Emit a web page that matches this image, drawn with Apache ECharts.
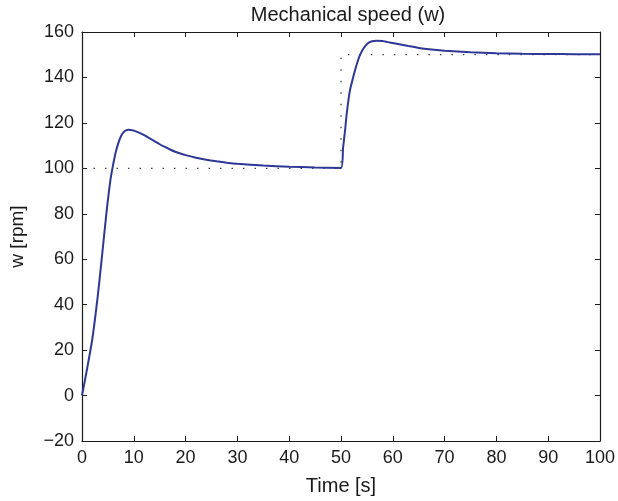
<!DOCTYPE html>
<html>
<head>
<meta charset="utf-8">
<script src="https://cdn.jsdelivr.net/npm/echarts@6/dist/echarts.min.js"></script>
<style>html,body{margin:0;padding:0;background:#fff}#c{width:618px;height:501px}</style>
</head>
<body>
<div id="c"></div>
<script>
// time (s) and mechanical speed (rpm)
var timeS = [0, 1, 2, 3, 3.8, 4.7, 5.5, 6, 6.5, 7, 7.5, 8, 8.5, 9, 10, 11, 12, 13, 14, 15, 16, 17, 18, 19, 20, 22, 24, 26, 28, 30, 35, 40, 45, 50,
             50.4, 50.8, 51.1, 51.7, 52.4, 53, 53.6, 54.3, 55.2, 56, 56.9, 58, 59.4, 61, 63, 65, 67, 70, 75, 80, 85, 90, 95, 100];
var speed = [0, 12, 25, 43, 60, 80, 95, 101.5, 107, 111, 114, 115.8, 116.7, 117, 116.6, 115.7, 114.6, 113.3, 112, 110.6, 109.4, 108.3, 107.3, 106.5, 105.8, 104.7, 103.8, 103.1, 102.5, 102, 101.2, 100.7, 100.4, 100.2,
             109, 117, 124, 134, 140.5, 145.5, 149.5, 152.6, 155, 155.9, 156.2, 156, 155.4, 154.7, 153.8, 153, 152.4, 151.8, 151.1, 150.7, 150.45, 150.3, 150.25, 150.2];
// speed reference (dotted)
var refTime = [0, 50, 50, 100];
var refSpeed = [100, 100, 150, 150];

var xTicks = [0, 10, 20, 30, 40, 50, 60, 70, 80, 90, 100];
var yTicks = [-20, 0, 20, 40, 60, 80, 100, 120, 140, 160];

var FONT = '"Liberation Sans", Arial, Helvetica, sans-serif';
function zip(a, b) { return a.map(function (v, i) { return [v, b[i]]; }); }

var chart = echarts.init(document.getElementById('c'), null, { renderer: 'canvas' });
var axisLine = { show: true, onZero: false, lineStyle: { color: '#1a1a1a', width: 1.2 } };
var tick = { show: true, inside: true, length: 5, lineStyle: { color: '#1a1a1a', width: 1 } };
var lbl = { color: '#1a1a1a', fontSize: 18, fontFamily: FONT };

chart.setOption({
  animation: false,
  backgroundColor: '#fff',
  title: {
    text: 'Mechanical speed (w)', left: 343, top: 0, textAlign: 'center',
    textStyle: { fontSize: 20, fontWeight: 'normal', color: '#1a1a1a', fontFamily: FONT }
  },
  grid: { left: 81, right: 17, top: 32, bottom: 59 },
  xAxis: [{
    type: 'value', min: xTicks[0], max: xTicks[xTicks.length - 1], interval: 10, position: 'bottom',
    name: 'Time [s]', nameLocation: 'middle', nameGap: 35,
    nameTextStyle: { fontSize: 20, color: '#1a1a1a', fontFamily: FONT },
    axisLine: axisLine, axisTick: tick, splitLine: { show: false },
    axisLabel: Object.assign({ margin: 8 }, lbl)
  }, {
    type: 'value', min: xTicks[0], max: xTicks[xTicks.length - 1], interval: 10, position: 'top',
    axisLine: axisLine, axisTick: tick, splitLine: { show: false }, axisLabel: { show: false }
  }],
  yAxis: [{
    type: 'value', min: yTicks[0], max: yTicks[yTicks.length - 1], interval: 20, position: 'left',
    name: 'w [rpm]', nameLocation: 'middle', nameGap: 55, nameRotate: 90,
    nameTextStyle: { fontSize: 19, color: '#1a1a1a', fontFamily: FONT },
    axisLine: axisLine, axisTick: tick, splitLine: { show: false },
    axisLabel: Object.assign({ margin: 8, formatter: function (v) { return v < 0 ? '\u2212' + Math.abs(v) : String(v); } }, lbl)
  }, {
    type: 'value', min: yTicks[0], max: yTicks[yTicks.length - 1], interval: 20, position: 'right',
    axisLine: axisLine, axisTick: tick, splitLine: { show: false }, axisLabel: { show: false }
  }],
  series: [{
    type: 'line', data: zip(refTime, refSpeed), showSymbol: false, symbol: 'none',
    lineStyle: { color: '#444', width: 1.3, type: [1.5, 10] }, z: 2
  }, {
    type: 'line', data: zip(timeS, speed), showSymbol: false, symbol: 'none', smooth: 0.2,
    lineStyle: { color: '#2d3796', width: 2 }, z: 3
  }]
});
</script>
</body>
</html>
